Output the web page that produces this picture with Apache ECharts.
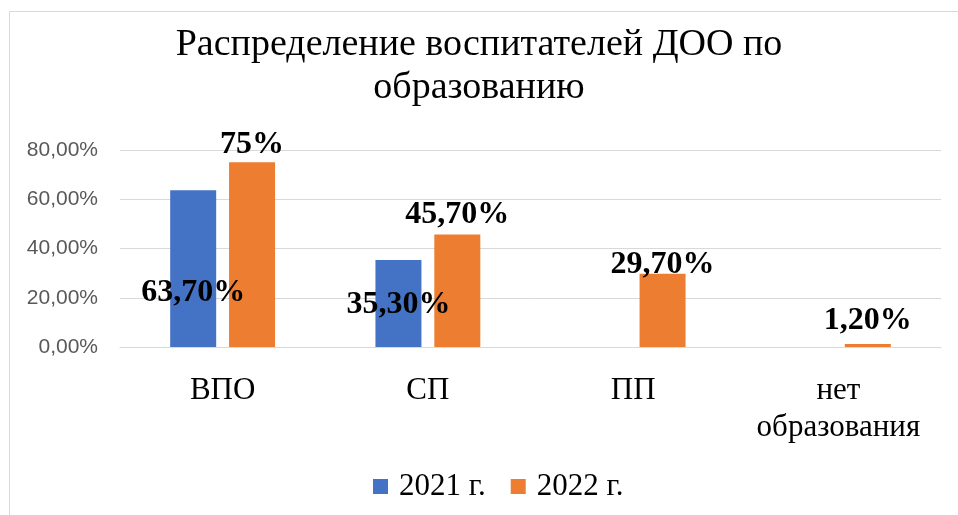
<!DOCTYPE html>
<html>
<head>
<meta charset="utf-8">
<script src="https://cdn.jsdelivr.net/npm/echarts@6/dist/echarts.min.js"></script>
<style>
  html, body { margin: 0; padding: 0; background: #fff; }
  #box { width: 958px; height: 515px; }
</style>
</head>
<body>
<div id="box"></div>
<script>
var categories = ['ВПО', 'СП', 'ПП', 'нет\nобразования'];
var values2021 = [63.7, 35.3, null, null];
var values2022 = [75, 45.7, 29.7, 1.2];
var labels2021 = ['63,70%', '35,30%', '', ''];
var labels2022 = ['75%', '45,70%', '29,70%', '1,20%'];
var yTicks = [0, 20, 40, 60, 80];

var serif = '"Liberation Serif", "DejaVu Serif", serif';

// подписи 2021 стоят внутри столбцов, на разной высоте
var offs2021 = [-33, -21];
var dist2022 = [2, 4, -7, 7];

var myChart = echarts.init(document.getElementById('box'));

var option = {
  animation: false,
  title: {
    text: 'Распределение воспитателей ДОО по\nобразованию',
    left: 'center',
    top: 19,
    textStyle: { fontFamily: serif, fontWeight: 'normal', fontSize: 38, color: '#000', lineHeight: 43 }
  },
  legend: {
    bottom: 8,
    left: 368,
    itemWidth: 15,
    itemHeight: 15,
    itemGap: 25,
    icon: 'rect',
    textStyle: { fontFamily: serif, fontSize: 31, color: '#000', padding: [0, 0, 0, 6] },
    data: ['2021 г.', '2022 г.']
  },
  grid: { left: 120, right: 17, top: 150, bottom: 168, containLabel: false },
  xAxis: {
    type: 'category',
    data: categories,
    axisLine: { show: true, lineStyle: { color: '#d9d9d9', width: 1 } },
    axisTick: { show: false },
    axisLabel: { interval: 0, fontFamily: serif, fontSize: 31, color: '#000', margin: 25, lineHeight: 37 }
  },
  yAxis: {
    type: 'value',
    min: yTicks[0],
    max: yTicks[yTicks.length - 1],
    interval: 20,
    axisLine: { show: false },
    axisTick: { show: false },
    splitLine: { lineStyle: { color: '#d9d9d9', width: 1 } },
    axisLabel: {
      fontFamily: '"Liberation Sans", Arial, sans-serif',
      fontSize: 21,
      color: '#595959',
      margin: 22,
      formatter: function (v) { return v.toFixed(2).replace('.', ',') + '%'; }
    }
  },
  series: [
    {
      name: '2021 г.',
      type: 'bar',
      barWidth: 46,
      barGap: '28%',
      itemStyle: { color: '#4472c4' },
      data: values2021.map(function (v, i) {
        return {
          value: v,
          label: {
            show: v != null,
            position: 'insideBottom',
            offset: [0, offs2021[i] || 0],
            formatter: labels2021[i]
          }
        };
      }),
      label: { fontFamily: serif, fontWeight: 'bold', fontSize: 32, color: '#000' }
    },
    {
      name: '2022 г.',
      type: 'bar',
      barWidth: 46,
      itemStyle: { color: '#ed7d31' },
      data: values2022.map(function (v, i) {
        return {
          value: v,
          label: { show: true, position: 'top', distance: dist2022[i], formatter: labels2022[i] }
        };
      }),
      label: { fontFamily: serif, fontWeight: 'bold', fontSize: 32, color: '#000' }
    }
  ],
  graphic: [{
    type: 'rect',
    shape: { x: 9.5, y: 11.5, width: 1000, height: 600 },
    style: { fill: 'none', stroke: '#d9d9d9', lineWidth: 1 },
    silent: true
  }]
};

myChart.setOption(option);
</script>
</body>
</html>
